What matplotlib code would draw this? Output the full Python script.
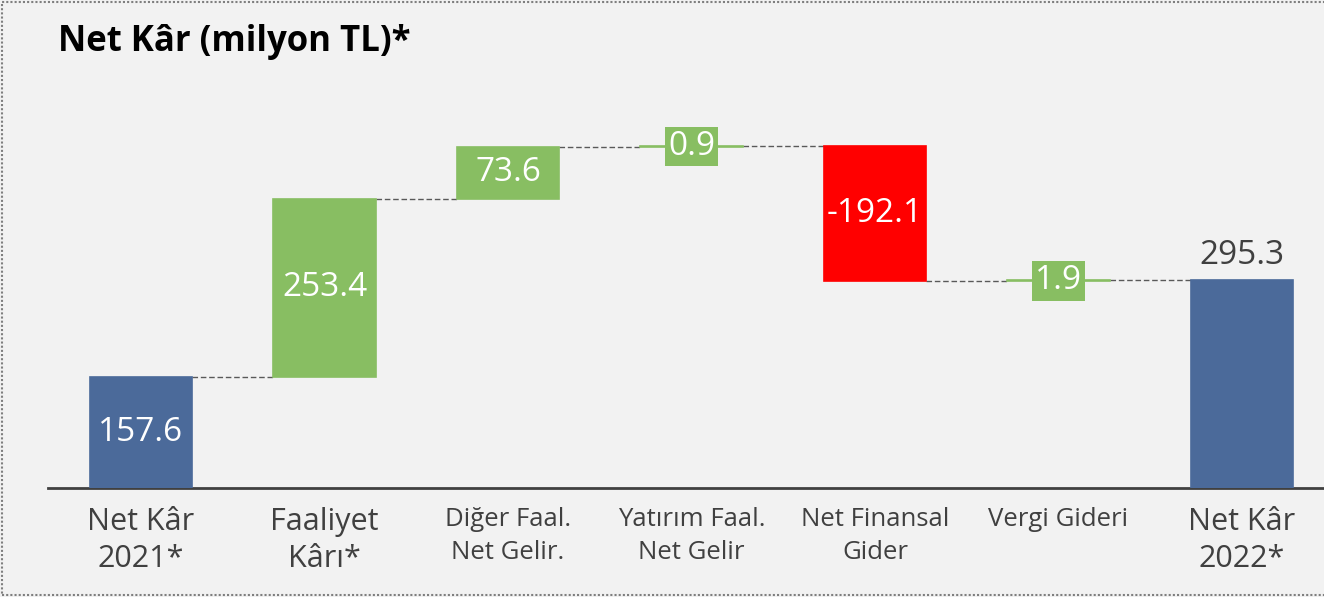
import matplotlib
matplotlib.use("Agg")
import matplotlib.pyplot as plt
from matplotlib.patches import Rectangle
import numpy as np

categories = ["Net Kâr\n2021*", "Faaliyet\nKârı*", "Diğer Faal.\nNet Gelir.",
              "Yatırım Faal.\nNet Gelir", "Net Finansal\nGider", "Vergi Gideri",
              "Net Kâr\n2022*"]
start_value = 157.6
changes = [253.4, 73.6, 0.9, -192.1, 1.9]
end_value = 295.3
value_labels = ["157.6", "253.4", "73.6", "0.9", "-192.1", "1.9", "295.3"]

BLUE = "#4b6a9a"
GREEN = "#88be62"
RED = "#ff0000"
BG = "#f2f2f2"
TXT = "#404040"

plt.rcParams['font.family'] = ['Open Sans', 'DejaVu Sans']

fig = plt.figure(figsize=(13.24, 5.97), dpi=100, facecolor=BG)
W, H = 1324, 597
ax = fig.add_axes([48 / W, 109 / H, (W - 48) / W, 408 / H])
ax.set_facecolor(BG)

# waterfall geometry from data
n = len(categories)
x = np.arange(n)
cum = start_value + np.cumsum(changes)
levels = np.concatenate([[start_value], cum])  # running totals after each bar
bottoms = [0.0]
heights = [start_value]
colors = [BLUE]
prev = start_value
for c in changes:
    bottoms.append(prev if c >= 0 else prev + c)
    heights.append(abs(c))
    colors.append(GREEN if c >= 0 else RED)
    prev += c
bottoms.append(0.0)
heights.append(end_value)
colors.append(BLUE)

w = 0.56
ax.bar(x, heights, bottom=bottoms, width=w, color=colors, edgecolor=colors,
       linewidth=1.2, zorder=3)

# connectors
for i in range(n - 1):
    lvl = levels[i]
    ax.plot([x[i] + w / 2, x[i + 1] - w / 2], [lvl, lvl], ls=(0, (4, 2)),
            color="#595959", lw=1.0, zorder=2)

# value labels
for i in range(n):
    centre = bottoms[i] + heights[i] / 2
    if i == n - 1:
        ax.text(x[i], bottoms[i] + heights[i] + 11, value_labels[i], ha="center",
                va="bottom", fontsize=24, color=TXT)
    elif heights[i] < 20:
        ax.text(x[i], centre, value_labels[i], ha="center", va="center",
                fontsize=24, color="white", zorder=4,
                bbox=dict(boxstyle="square,pad=0.1", fc=GREEN, ec="none"))
    else:
        ax.text(x[i], centre, value_labels[i], ha="center", va="center",
                fontsize=24, color="white", zorder=4)

ax.set_xlim(-0.507, 6.447)
ax.set_ylim(0, 408 / 0.704)
for s in ["top", "right", "left"]:
    ax.spines[s].set_visible(False)
ax.spines["bottom"].set_color(TXT)
ax.spines["bottom"].set_linewidth(2)
ax.set_yticks([])
ax.set_xticks(x)
ax.set_xticklabels(categories)
ax.tick_params(axis="x", length=0, pad=14)
for i, lab in enumerate(ax.get_xticklabels()):
    lab.set_color(TXT)
    if i in (0, 1, n - 1):
        lab.set_fontsize(22)
        lab.set_linespacing(1.3)
    else:
        lab.set_fontsize(18.5)
        lab.set_linespacing(1.4)

fig.text(58 / W, 1 - 42 / H, "Net Kâr (milyon TL)*", fontsize=25, fontweight="bold",
         ha="left", va="center", color="black")

# dotted frame
fig.patches.append(Rectangle((2 / W, 2 / H), 1.2, 1 - 4 / H, transform=fig.transFigure,
                             fill=False, ec="#7f7f7f", lw=1.5, ls=(0, (1, 1))))

fig.savefig("out.png", dpi=100, facecolor=BG)
